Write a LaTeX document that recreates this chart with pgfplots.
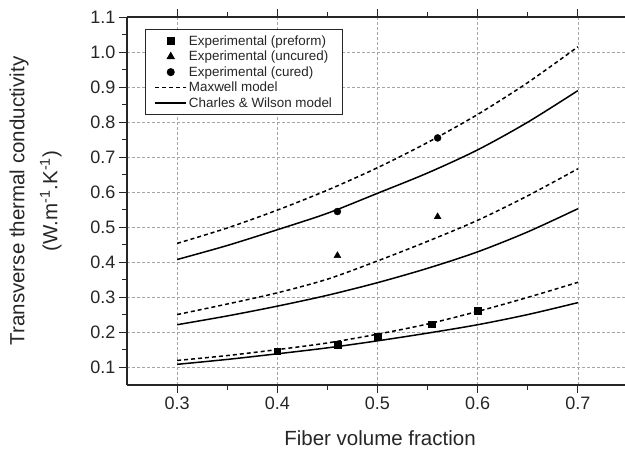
\documentclass[border=0pt]{standalone}
\usepackage{pgfplots}
\pgfplotsset{compat=1.18}
\usepackage{fontspec}
\setmainfont{Liberation Sans}
\pgfplotsset{
  markleg/.style={legend image code/.code={\draw[##1] plot coordinates {(15.5pt,0pt)};}},
  lineleg/.style={legend image code/.code={\draw[##1] (0pt,0pt) -- (31pt,0pt);}},
}
\begin{document}
\begin{tikzpicture}
\begin{axis}[
  name=ax,
  scale only axis,
  width=501pt, height=368pt,
  xmin=0.25, xmax=0.75,
  ymin=0.05, ymax=1.1,
  axis x line*=box,
  axis y line*=left,
  xtick={0.3,0.4,0.5,0.6,0.7},
  ytick={0.1,0.2,0.3,0.4,0.5,0.6,0.7,0.8,0.9,1.0,1.1},
  minor x tick num=1,
  minor y tick num=1,
  tick align=outside,
  major tick length=8pt,
  minor tick length=5pt,
  every tick/.style={black!85, line width=1pt},
  axis line style={line width=1.4pt, black!85},
  xticklabel style={/pgf/number format/.cd, fixed, fixed zerofill, precision=1},
  yticklabel style={/pgf/number format/.cd, fixed, fixed zerofill, precision=1},
  /pgf/number format/assume math mode=true,
  tick label style={font=\fontsize{18}{20}\selectfont, text=black!85},
  grid=major,
  major grid style={dash pattern=on 3pt off 2pt, gray!70, line width=0.6pt},
  xlabel={Fiber volume fraction},
  ylabel={Transverse thermal conductivity\\(W.m\textsuperscript{-1}.K\textsuperscript{-1})},
  label style={font=\fontsize{20.5}{33}\selectfont, text=black!85},
  xlabel style={at={(axis description cs:0.505,0)}, anchor=center, yshift=-53pt},
  ylabel style={at={(axis description cs:-0.1826,0.5)}, anchor=center, align=center},
  legend style={at={(axis description cs:0,1)}, anchor=north west, xshift=18pt, yshift=-12pt,
    font=\fontsize{13.4}{16}\selectfont, draw=black!85, line width=1pt, inner xsep=9pt, inner ysep=4pt,
    row sep=0.3pt, text=black!85},
  legend cell align=left,
  clip=false,
]
\addplot[only marks, mark=square*, mark size=3.3pt, black, markleg] coordinates {
(0.40,0.146) (0.46,0.165) (0.50,0.188) (0.554,0.224) (0.60,0.262)};
\addlegendentry{Experimental (preform)}
\addplot[only marks, mark=triangle*, mark size=4pt, black, markleg] coordinates {
(0.46,0.419) (0.56,0.530)};
\addlegendentry{Experimental (uncured)}
\addplot[only marks, mark=*, mark size=3.5pt, black, markleg] coordinates {
(0.46,0.545) (0.56,0.755)};
\addlegendentry{Experimental (cured)}
% Maxwell top
\addplot[black, line width=1.5pt, dash pattern=on 4pt off 3pt, smooth, lineleg] coordinates {
(0.30,0.454) (0.35,0.498) (0.40,0.549) (0.45,0.606) (0.50,0.670) (0.55,0.742) (0.60,0.822) (0.65,0.913) (0.70,1.015)};
\addlegendentry{Maxwell model}
% Charles & Wilson top
\addplot[black, line width=1.5pt, smooth, lineleg] coordinates {
(0.30,0.408) (0.35,0.448) (0.40,0.493) (0.45,0.540) (0.50,0.597) (0.55,0.655) (0.60,0.721) (0.65,0.800) (0.70,0.890)};
\addlegendentry{Charles \& Wilson model}
% Maxwell middle
\addplot[forget plot, black, line width=1.5pt, dash pattern=on 4pt off 3pt, smooth] coordinates {
(0.30,0.251) (0.35,0.281) (0.40,0.313) (0.45,0.352) (0.50,0.404) (0.55,0.460) (0.60,0.520) (0.65,0.590) (0.70,0.667)};
% Charles & Wilson middle
\addplot[forget plot, black, line width=1.5pt, smooth] coordinates {
(0.30,0.222) (0.35,0.247) (0.40,0.275) (0.45,0.306) (0.50,0.342) (0.55,0.383) (0.60,0.430) (0.65,0.487) (0.70,0.553)};
% Maxwell bottom
\addplot[forget plot, black, line width=1.5pt, dash pattern=on 4pt off 3pt, smooth] coordinates {
(0.30,0.120) (0.35,0.134) (0.40,0.151) (0.45,0.170) (0.50,0.195) (0.55,0.224) (0.60,0.260) (0.65,0.300) (0.70,0.343)};
% Charles & Wilson bottom
\addplot[forget plot, black, line width=1.5pt, smooth] coordinates {
(0.30,0.109) (0.35,0.123) (0.40,0.139) (0.45,0.156) (0.50,0.176) (0.55,0.198) (0.60,0.222) (0.65,0.251) (0.70,0.285)};
\end{axis}
\pgfresetboundingbox
\path (-127pt,-66pt) rectangle (498pt,385pt);
\end{tikzpicture}
\end{document}
